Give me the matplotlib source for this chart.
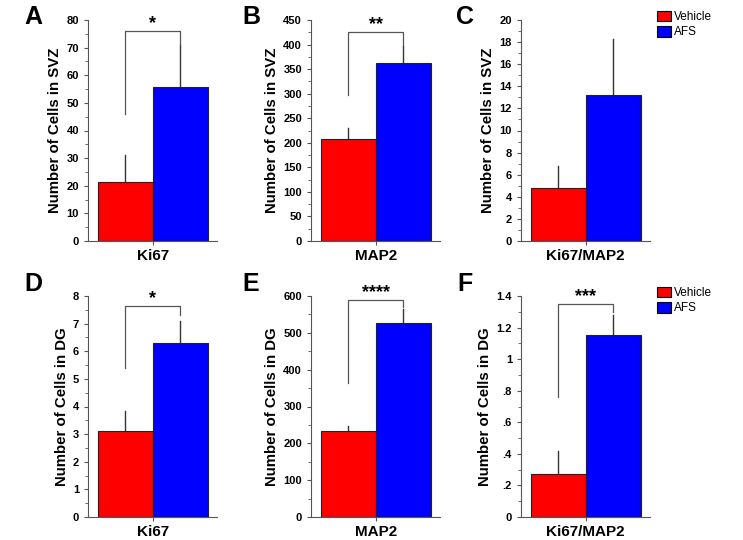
import matplotlib
matplotlib.use("Agg")
import matplotlib.pyplot as plt
from matplotlib.ticker import MultipleLocator, FuncFormatter
from matplotlib.patches import Patch

plt.rcParams['font.family'] = ['Liberation Sans', 'DejaVu Sans']

groups = ["Vehicle", "AFS"]
colors = ["#ff0000", "#0000ff"]

# panel data: mean and error size for Vehicle / AFS
panel_letters = ["A", "B", "C", "D", "E", "F"]
markers = ["Ki67", "MAP2", "Ki67/MAP2", "Ki67", "MAP2", "Ki67/MAP2"]
ylabels = ["Number of Cells in SVZ"] * 3 + ["Number of Cells in DG"] * 3
means = [[21.5, 55.8], [208, 362], [4.8, 13.2], [3.1, 6.3], [233, 528], [0.27, 1.155]]
errs = [[9.5, 15.0], [22, 36], [2.0, 5.1], [0.75, 0.8], [15, 37], [0.15, 0.125]]
ymax = [80, 450, 20, 8, 600, 1.4]
major = [10, 50, 2, 1, 100, 0.2]
minor = [5, 25, 1, 0.5, 50, 0.1]
# significance bracket: (left leg bottom, top, right leg bottom, stars)
brackets = [(46, 76, 71, "*"), (298, 426, 400, "**"), None,
            (5.4, 7.65, 7.3, "*"), (365, 588, 570, "****"), (0.76, 1.35, 1.3, "***")]

fig = plt.figure(figsize=(7.43, 5.40), dpi=100)

lefts = [88, 311, 521]
tops = [20, 296]
w_px, h_px = 129, 221
letter_x = [33, 251, 465]
letter_y = [17, 284]

def fmt_f(v, pos):
    s = "%g" % round(v, 2)
    if s.startswith("0."):
        s = s[1:]
    return s

for i in range(6):
    row, col = divmod(i, 3)
    l = lefts[col] / 743
    b = 1 - (tops[row] + h_px) / 540
    ax = fig.add_axes([l, b, w_px / 743, h_px / 540])
    x = [-0.5, 0.5]
    ax.bar(x, means[i], width=1.0, color=colors, edgecolor="#222222", linewidth=0.8, zorder=2)
    for xi, m, e in zip(x, means[i], errs[i]):
        ax.plot([xi, xi], [m, m + e], color="#333333", lw=1.0, zorder=1)
    br = brackets[i]
    if br is not None:
        lb, top, rb, stars = br
        ax.plot([-0.5, -0.5, 0.5, 0.5], [lb, top, top, rb], color="#555555", lw=0.9, zorder=1)
        ax.text(0, top - ymax[i] * 0.005, stars, ha="center", va="bottom", fontsize=13,
                fontweight="bold")
    ax.set_xlim(-1.18, 1.17)
    ax.set_ylim(0, ymax[i])
    ax.yaxis.set_major_locator(MultipleLocator(major[i]))
    ax.yaxis.set_minor_locator(MultipleLocator(minor[i]))
    if i == 5:
        ax.yaxis.set_major_formatter(FuncFormatter(fmt_f))
    ax.set_xticks([0])
    ax.set_xticklabels([markers[i]], fontsize=11, fontweight="bold")
    ax.tick_params(axis="x", length=3, width=0.8, color="#555555", pad=3)
    ax.tick_params(axis="y", which="major", length=3, width=0.8, color="#555555",
                   labelsize=8, pad=3.5)
    ax.tick_params(axis="y", which="minor", length=2, width=0.6, color="#555555")
    for lab in ax.get_yticklabels():
        lab.set_fontweight("bold")
    for s in ["top", "right"]:
        ax.spines[s].set_visible(False)
    for s in ["left", "bottom"]:
        ax.spines[s].set_color("#555555")
        ax.spines[s].set_linewidth(0.8)
    ax.set_ylabel(ylabels[i], fontsize=10.8, fontweight="bold", labelpad=3)
    fig.text(letter_x[col] / 743, 1 - letter_y[row] / 540, panel_letters[i],
             fontsize=18, fontweight="bold", ha="center", va="center")
    if col == 2:
        handles = [Patch(facecolor=c, edgecolor="black", linewidth=0.8) for c in colors]
        fig.legend(handles, groups, loc="upper left",
                   bbox_to_anchor=(652 / 743, 1 - (tops[row] - 14) / 540),
                   fontsize=8.5, frameon=False, handlelength=1.2, handleheight=1.0,
                   handletextpad=0.3, labelspacing=0.25, borderaxespad=0)

fig.savefig("out.png", dpi=100)
